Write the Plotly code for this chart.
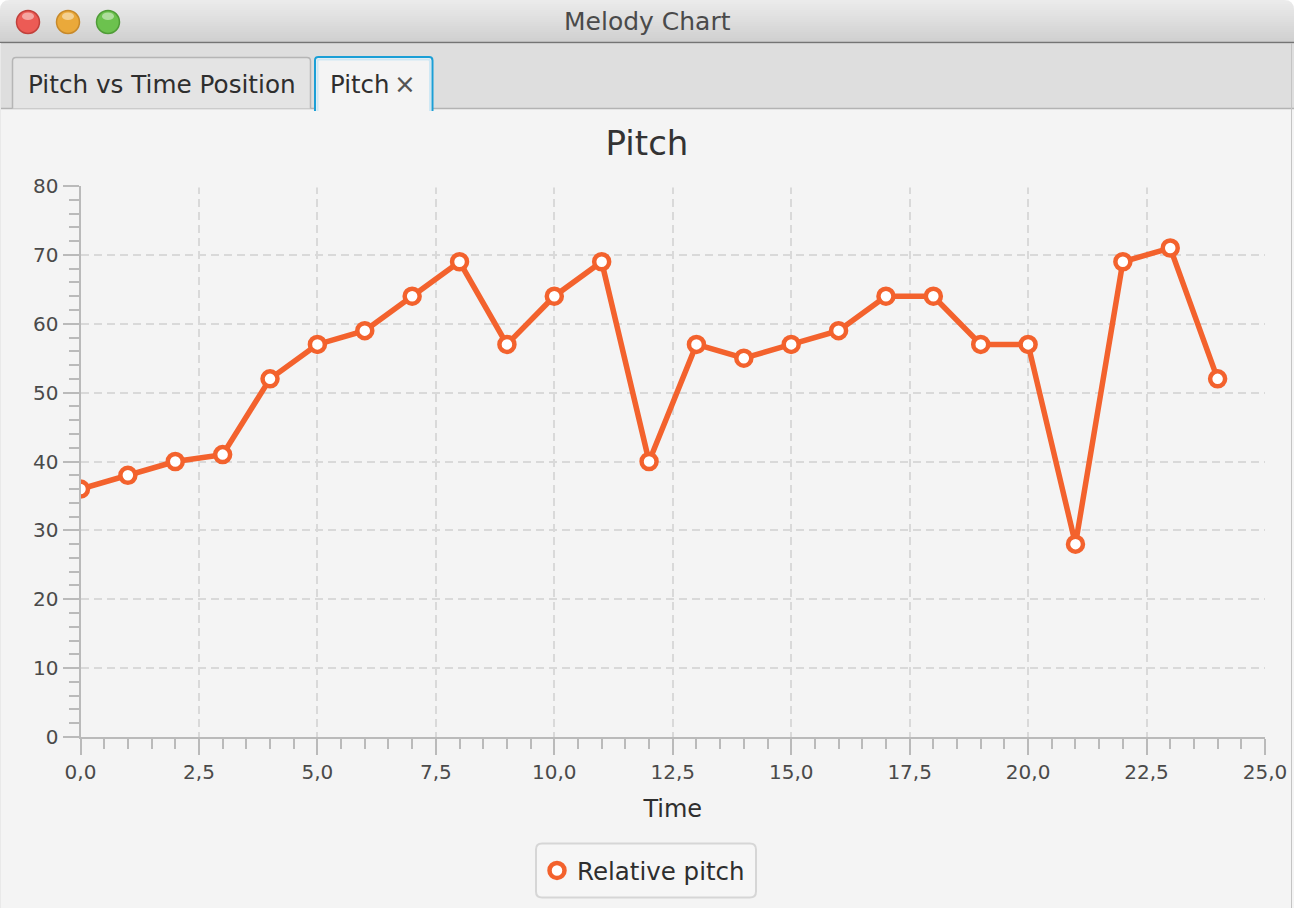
import plotly.graph_objects as go

# datos de la melodia
time = [0, 1, 2, 3, 4, 5, 6, 7, 8, 9, 10, 11, 12, 13, 14, 15, 16, 17, 18, 19, 20, 21, 22, 23, 24]
pitch = [36, 38, 40, 41, 52, 57, 59, 64, 69, 57, 64, 69, 40, 57, 55, 57, 59, 64, 64, 57, 57, 28, 69, 71, 52]
x_range = [0, 25]
y_range = [0, 80]

W, H = 1294, 908
# area del grafico en pixeles
L, R, T, B = 80.5, 1265, 186, 737

ORANGE = "#f3622d"
BG = "#f4f4f4"
FONT = "DejaVu Sans"


def px(x):
    return x / W


def py(y):
    return 1 - y / H


def path(points):
    """Arma un path svg en coordenadas paper a partir de pixeles."""
    out = []
    for cmd, *pts in points:
        coords = " ".join(f"{px(a):.5f},{py(b):.5f}" for a, b in pts)
        out.append(f"{cmd}{coords}")
    return " ".join(out)


def mezclar(c1, c2, t):
    a = [int(c1[i:i + 2], 16) for i in (1, 3, 5)]
    b = [int(c2[i:i + 2], 16) for i in (1, 3, 5)]
    return "#" + "".join(f"{round(a[i] + (b[i] - a[i]) * t):02x}" for i in range(3))


shapes = []

# barra de titulo con degradado
n = 21
for i in range(n):
    y0 = i * 42 / n
    y1 = (i + 1) * 42 / n
    shapes.append(dict(type="rect", xref="paper", yref="paper", x0=0, x1=1, y0=py(y1), y1=py(y0),
                       fillcolor=mezclar("#ebebeb", "#d0d0d0", i / (n - 1)), line=dict(width=0), layer="below"))
shapes.append(dict(type="line", xref="paper", yref="paper", x0=0, x1=1, y0=py(42.5), y1=py(42.5),
                   line=dict(color="#747474", width=1.5)))

# esquinas redondeadas de la ventana
for cx, sx in ((0, 1), (W, -1)):
    shapes.append(dict(type="path", xref="paper", yref="paper",
                       path=path([("M", (cx, 0)), ("L", (cx + sx * 10, 0)), ("Q", (cx, 0), (cx, 10)), ("Z",)]),
                       fillcolor="white", line=dict(width=0)))

# barra de pestanas
shapes.append(dict(type="rect", xref="paper", yref="paper", x0=0, x1=1, y0=py(108.5), y1=py(43.5),
                   fillcolor="#dedede", line=dict(width=0), layer="below"))
shapes.append(dict(type="line", xref="paper", yref="paper", x0=0, x1=1, y0=py(108.5), y1=py(108.5),
                   line=dict(color="#b3b3b3", width=1.5)))

# pestana 1
shapes.append(dict(type="path", xref="paper", yref="paper",
                   path=path([("M", (12.5, 108.5)), ("L", (12.5, 61)), ("Q", (12.5, 57.5), (16, 57.5)),
                              ("L", (307, 57.5)), ("Q", (310.5, 57.5), (310.5, 61)), ("L", (310.5, 108.5))]),
                   fillcolor="#e4e4e4", line=dict(color="#b5b5b5", width=1.5)))
# pestana 2 (seleccionada)
shapes.append(dict(type="path", xref="paper", yref="paper",
                   path=path([("M", (315, 111)), ("L", (315, 60.5)), ("Q", (315, 57), (318.5, 57)),
                              ("L", (429, 57)), ("Q", (432.5, 57), (432.5, 60.5)), ("L", (432.5, 111))]),
                   fillcolor=BG, line=dict(color="#1b9fd6", width=2)))
shapes.append(dict(type="path", xref="paper", yref="paper",
                   path=path([("M", (317.5, 111)), ("L", (317.5, 61.5)), ("Q", (317.5, 59.5), (319.5, 59.5)),
                              ("L", (428, 59.5)), ("Q", (430, 59.5), (430, 61.5)), ("L", (430, 111))]),
                   fillcolor=BG, line=dict(color="#cfe8f4", width=2)))

# botones de la ventana
for cx, fill, borde in ((28, "#ec5b55", "#c1403b"), (68, "#eaa93a", "#c7892a"), (108, "#6cc24e", "#4f9c37")):
    shapes.append(dict(type="circle", xref="paper", yref="paper", x0=px(cx - 11.5), x1=px(cx + 11.5),
                       y0=py(33.5), y1=py(10.5), fillcolor=fill, line=dict(color=borde, width=1.5)))
    shapes.append(dict(type="circle", xref="paper", yref="paper", x0=px(cx - 6), x1=px(cx + 6),
                       y0=py(20), y1=py(12.5), fillcolor="rgba(255,255,255,0.45)", line=dict(width=0)))

# bordes de la ventana
shapes.append(dict(type="line", xref="paper", yref="paper", x0=px(1291.5), x1=px(1291.5), y0=0, y1=py(43),
                   line=dict(color="#c4c4c4", width=1)))
shapes.append(dict(type="line", xref="paper", yref="paper", x0=px(0.5), x1=px(0.5), y0=0, y1=py(43),
                   line=dict(color="#e9e9e9", width=1)))

# tapar la grilla superior (en JavaFX no se dibuja)
shapes.append(dict(type="line", xref="x", yref="y", x0=x_range[0], x1=x_range[1], y0=y_range[1], y1=y_range[1],
                   line=dict(color=BG, width=3), layer="between"))

# caja de la leyenda
shapes.append(dict(type="path", xref="paper", yref="paper",
                   path=path([("M", (542, 843.5)), ("L", (750, 843.5)), ("Q", (756, 843.5), (756, 849.5)),
                              ("L", (756, 891.5)), ("Q", (756, 897.5), (750, 897.5)), ("L", (542, 897.5)),
                              ("Q", (536, 897.5), (536, 891.5)), ("L", (536, 849.5)), ("Q", (536, 843.5), (542, 843.5)),
                              ("Z",)]),
                   fillcolor="#f6f6f6", line=dict(color="#d6d6d6", width=2)))

annotations = [
    dict(text="Melody Chart", x=px(647), y=py(22), xref="paper", yref="paper", showarrow=False,
         xanchor="center", yanchor="middle", font=dict(family=FONT, size=25, color="#4a4a4a")),
    dict(text="Pitch vs Time Position", x=px(26), y=py(84), xref="paper", yref="paper", showarrow=False,
         xanchor="left", yanchor="middle", font=dict(family=FONT, size=24.7, color="#2e2e2e")),
    dict(text="Pitch", x=px(328), y=py(84), xref="paper", yref="paper", showarrow=False,
         xanchor="left", yanchor="middle", font=dict(family=FONT, size=24.4, color="#2e2e2e")),
    dict(text="×", x=px(405), y=py(84), xref="paper", yref="paper", showarrow=False,
         xanchor="center", yanchor="middle", font=dict(family=FONT, size=26, color="#555555")),
]

fig = go.Figure()

fig.add_trace(go.Scatter(
    x=time, y=pitch,
    mode="lines",
    line=dict(color=ORANGE, width=5.5),
    showlegend=False,
    hoverinfo="skip",
))

fig.add_trace(go.Scatter(
    x=time, y=pitch,
    mode="markers",
    marker=dict(size=15, color="white", line=dict(color=ORANGE, width=4.5)),
    name="Relative pitch",
    cliponaxis=True,
))

eje = dict(
    automargin=False,
    showline=True, linecolor="#bababa", linewidth=2,
    ticks="outside", ticklen=16, tickwidth=2, tickcolor="#bababa",
    showgrid=True, gridcolor="#d9d9d9", gridwidth=2, griddash="8px,5px",
    zeroline=False,
    tickfont=dict(family=FONT, size=20, color="#4a4a4a"),
)

fig.update_layout(
    width=W, height=H,
    margin=dict(l=0, r=0, t=0, b=0, autoexpand=False),
    paper_bgcolor=BG,
    plot_bgcolor=BG,
    separators=",.",
    font=dict(family=FONT, color="#333333"),
    title=dict(text="Pitch", x=0.5, xanchor="center", y=py(143), yanchor="middle",
               font=dict(family=FONT, size=34, color="#333333")),
    xaxis=dict(
        eje,
        domain=[px(L), px(R)],
        range=x_range,
        dtick=2.5, tick0=0, tickformat=".1f",
        minor=dict(dtick=0.5, ticks="outside", ticklen=10, tickwidth=2, tickcolor="#bababa", showgrid=False),
        title=dict(text="Time", font=dict(family=FONT, size=24, color="#2e2e2e"), standoff=17),
    ),
    yaxis=dict(
        eje,
        domain=[py(B), py(T)],
        range=y_range,
        dtick=10, tick0=0,
        minor=dict(dtick=2, ticks="outside", ticklen=10, tickwidth=2, tickcolor="#bababa", showgrid=False),
    ),
    legend=dict(
        x=px(537), xanchor="left", y=py(870.5), yanchor="middle",
        bgcolor="rgba(0,0,0,0)", borderwidth=0,
        font=dict(family=FONT, size=24.5, color="#2e2e2e"),
    ),
    shapes=shapes,
    annotations=annotations,
)

# quitar el margen del body para que la figura calce con la ventana
fig.write_html("out.html", config={"displayModeBar": False},
               post_script="document.body.style.margin='0';document.body.style.overflow='hidden';")
